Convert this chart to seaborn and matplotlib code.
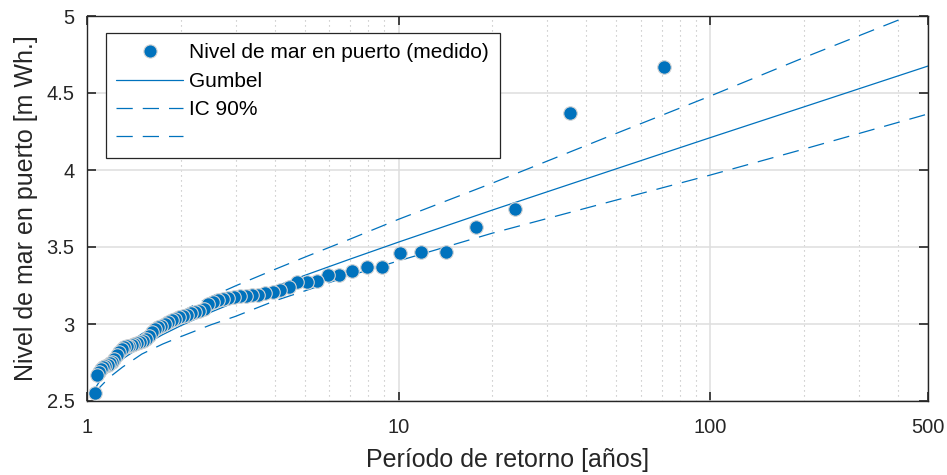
import matplotlib
matplotlib.use("Agg")
import matplotlib.pyplot as plt
import seaborn as sns
import pandas as pd
from matplotlib.ticker import FixedLocator, NullFormatter, FixedFormatter

# ---- measured data (return period [years], level [m]) ----
periodo = [71.0, 35.5, 23.67, 17.75, 14.2, 11.83, 10.14, 8.875, 7.889, 7.1,
           6.455, 5.917, 5.462, 5.071, 4.733, 4.438, 4.176, 3.944, 3.737, 3.55,
           3.381, 3.227, 3.087, 2.958, 2.84, 2.731, 2.63, 2.536, 2.448, 2.367,
           2.29, 2.219, 2.152, 2.088, 2.029, 1.972, 1.919, 1.868, 1.821, 1.775,
           1.732, 1.69, 1.651, 1.614, 1.578, 1.543, 1.511, 1.479, 1.449, 1.42,
           1.392, 1.365, 1.34, 1.315, 1.291, 1.268, 1.246, 1.224, 1.203, 1.183,
           1.164, 1.145, 1.127, 1.109, 1.092, 1.076, 1.06]
nivel = [4.67, 4.37, 3.75, 3.63, 3.47, 3.47, 3.46, 3.37, 3.37, 3.345,
         3.32, 3.32, 3.28, 3.275, 3.27, 3.24, 3.22, 3.21, 3.20, 3.19,
         3.19, 3.18, 3.18, 3.175, 3.17, 3.165, 3.155, 3.14, 3.13, 3.10,
         3.085, 3.075, 3.07, 3.06, 3.05, 3.045, 3.035, 3.025, 3.015, 3.00,
         2.99, 2.98, 2.965, 2.945, 2.925, 2.905, 2.89, 2.88, 2.875, 2.87,
         2.865, 2.86, 2.855, 2.85, 2.84, 2.82, 2.80, 2.775, 2.755, 2.745,
         2.735, 2.725, 2.72, 2.71, 2.69, 2.67, 2.55]

# ---- fitted Gumbel curve and 90% confidence band ----
T_curva = [1.06, 1.1, 1.15, 1.2, 1.3, 1.5, 1.75, 2, 2.5, 3, 4, 5, 7, 10,
           20, 50, 100, 200, 500]
gumbel = [2.579, 2.631, 2.678, 2.715, 2.773, 2.856, 2.931, 2.989, 3.077,
          3.143, 3.242, 3.316, 3.422, 3.532, 3.740, 4.008, 4.210, 4.410, 4.675]
ic_sup = [2.669, 2.716, 2.758, 2.790, 2.848, 2.936, 3.016, 3.079, 3.177,
          3.248, 3.354, 3.434, 3.552, 3.680, 3.915, 4.238, 4.480, 4.730, 5.050]
ic_inf = [2.540, 2.590, 2.630, 2.665, 2.720, 2.805, 2.870, 2.918, 2.995,
          3.050, 3.150, 3.215, 3.315, 3.410, 3.590, 3.805, 3.967, 4.136, 4.364]

x_ticks = [1, 10, 100, 500]
x_ticklabels = ["1", "10", "100", "500"]
x_minor = [2, 3, 4, 5, 6, 7, 8, 9, 20, 30, 40, 50, 60, 70, 80, 90, 200, 300, 400]
y_ticks = [2.5, 3, 3.5, 4, 4.5, 5]
y_ticklabels = ["2.5", "3", "3.5", "4", "4.5", "5"]

labels = ["Nivel de mar en puerto (medido)", "Gumbel", "IC 90%", ""]

sns.set_theme(style="white")
plt.rcParams["font.family"] = ["Liberation Sans", "DejaVu Sans"]

BLUE = "#0072BD"
DARK = "#262626"

fig = plt.figure(figsize=(9.47, 4.75), dpi=100)
ax = fig.add_axes([87 / 947, 1 - 401 / 475, 841 / 947, 385 / 475])

df_pts = pd.DataFrame({"T": periodo, "nivel": nivel})
df_cur = pd.DataFrame({"T": T_curva, "gumbel": gumbel, "sup": ic_sup, "inf": ic_inf})

ax.set_xscale("log")

sns.scatterplot(data=df_pts, x="T", y="nivel", ax=ax, s=95, color=BLUE,
                edgecolor="#d4d4d4", linewidth=0.8, zorder=3, legend=False)
sns.lineplot(data=df_cur, x="T", y="gumbel", ax=ax, color=BLUE, lw=0.9,
             sort=False, zorder=2, legend=False)
sns.lineplot(data=df_cur, x="T", y="sup", ax=ax, color=BLUE, lw=0.9,
             sort=False, zorder=2, legend=False, linestyle=(0, (13, 8)))
sns.lineplot(data=df_cur, x="T", y="inf", ax=ax, color=BLUE, lw=0.9,
             sort=False, zorder=2, legend=False, linestyle=(0, (13, 8)))

ax.set_xlim(1, 500)
ax.set_ylim(2.5, 5)

ax.xaxis.set_major_locator(FixedLocator(x_ticks))
ax.xaxis.set_major_formatter(FixedFormatter(x_ticklabels))
ax.xaxis.set_minor_locator(FixedLocator(x_minor))
ax.xaxis.set_minor_formatter(NullFormatter())
ax.yaxis.set_major_locator(FixedLocator(y_ticks))
ax.yaxis.set_major_formatter(FixedFormatter(y_ticklabels))

ax.grid(True, which="major", color="#dedede", lw=1.1, ls="-", zorder=0)
ax.grid(True, which="minor", axis="x", color="#b8b8b8", lw=0.8,
        ls=(0, (1, 3.5)), zorder=0)
ax.set_axisbelow(True)

for sp in ax.spines.values():
    sp.set_color(DARK)
    sp.set_linewidth(1.0)
    sp.set_visible(True)

ax.tick_params(which="major", direction="in", length=6.5, width=1.2,
               top=True, right=True, bottom=True, left=True,
               colors=DARK, labelsize=14.5)
ax.tick_params(axis="x", which="major", pad=12)
ax.tick_params(axis="y", which="major", pad=9)
ax.tick_params(which="minor", length=0)

ax.set_xlabel("Período de retorno [años]", fontsize=18, color=DARK, labelpad=8)
ax.set_ylabel("Nivel de mar en puerto [m Wh.]", fontsize=18, color=DARK, labelpad=6)

handles = [
    plt.Line2D([], [], ls="none", marker="o", ms=9.5, mfc=BLUE,
               mec="#d4d4d4", mew=0.8),
    plt.Line2D([], [], color=BLUE, lw=0.9),
    plt.Line2D([], [], color=BLUE, lw=0.9, ls=(0, (13, 8))),
    plt.Line2D([], [], color=BLUE, lw=0.9, ls=(0, (13, 8))),
]
leg = ax.legend(handles, labels, loc="upper left",
                bbox_to_anchor=(19 / 841, 1 - 17 / 385), borderaxespad=0,
                fontsize=15, frameon=True, fancybox=False, framealpha=1,
                edgecolor=DARK, handlelength=3.2, handletextpad=0.3,
                labelspacing=0.45, borderpad=0.5)
leg.get_frame().set_linewidth(0.9)
for t in leg.get_texts():
    t.set_color("black")

fig.savefig("out.png", dpi=100)
